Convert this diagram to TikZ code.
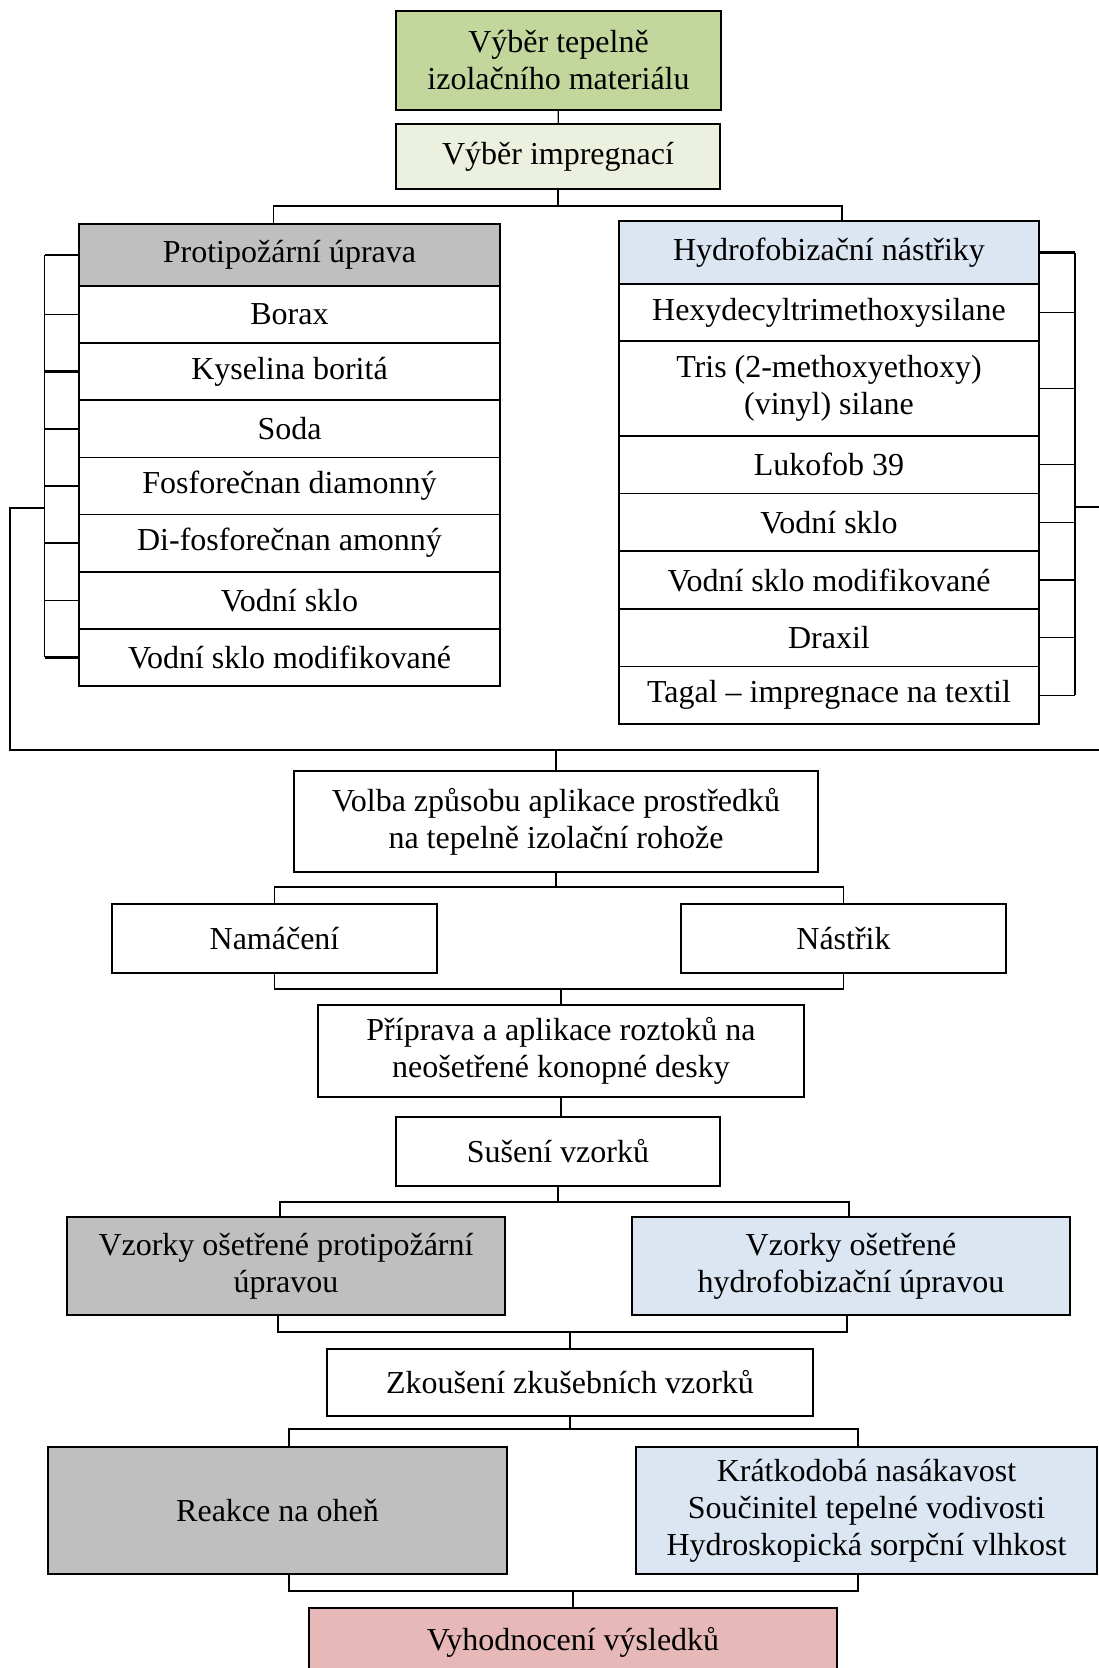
\documentclass[tikz,border=0pt]{standalone}
\usepackage{fontspec}
\setmainfont{Liberation Serif}
\usepackage{tikz}
\usetikzlibrary{positioning, calc}
\usepackage{xcolor}
\definecolor{matgreen}{RGB}{195, 214, 155}
\definecolor{impgreen}{RGB}{235, 241, 222}
\definecolor{firegray}{RGB}{191, 191, 191}
\definecolor{hydroblue}{RGB}{220, 230, 242}
\definecolor{resultpink}{RGB}{230, 185, 184}

\begin{document}
\begin{tikzpicture}[x=1pt, y=-1pt,
  box/.style={draw, line width=1.6pt, inner sep=0pt, outer sep=0pt,
    align=center, font=\fontsize{32}{37}\selectfont},
  link/.style={line width=1.3pt},
  heavy/.style={line width=2.6pt}]
  \useasboundingbox (0,0) rectangle (1099,1668);
  %--- selection -------------------------------------------------------------
  \node[box, fill=matgreen, minimum width=325, minimum height=99] (mat)
    at (558.5,60.5) {Výběr tepelně\\izolačního materiálu};
  \node[box, fill=impgreen, minimum width=324, minimum height=65] (imp)
    at (558,156.5) {Výběr impregnací};
  \draw[link] (mat) -- (imp);
  %--- fire protection list --------------------------------------------------
  \begin{scope}
    \node[box, fill=firegray, minimum width=421, minimum height=62] (f0)
      at (289.5,255) {Protipožární úprava};
    \foreach \txt [count=\i, remember=\i as \j (initially 0)] in
      {Borax, Kyselina boritá, Soda, Fosforečnan diamonný,
       Di-fosforečnan amonný, Vodní sklo, Vodní sklo modifikované}
      \node[box, minimum width=421, minimum height=57.14, below=0pt of f\j]
        (f\i) {\txt};
    % bracket on the left
    \coordinate (lspine) at (44.6,0);
    \foreach \k in {1,3,4,6}
      \draw[link] (f\k.west) -- (f\k.west -| lspine);
    \foreach \k in {0,2,5,7}
      \draw[heavy] (f\k.west) -- (f\k.west -| lspine);
    \draw[link] (f0.west -| lspine) -- (f7.west -| lspine);
  \end{scope}
  %--- hydrophobic list ------------------------------------------------------
  \begin{scope}
    \node[box, fill=hydroblue, minimum width=420, minimum height=63] (h0)
      at (829,252.5) {Hydrofobizační nástřiky};
    \node[box, minimum width=420, minimum height=57, below=0pt of h0] (h1)
      {Hexydecyltrimethoxysilane};
    \node[box, minimum width=420, minimum height=95, below=0pt of h1] (h2)
      {Tris (2-methoxyethoxy)\\(vinyl) silane};
    \foreach \txt [count=\i from 3, remember=\i as \j (initially 2)] in
      {Lukofob 39, Vodní sklo, Vodní sklo modifikované, Draxil,
       Tagal -- impregnace na textil}
      \node[box, minimum width=420, minimum height=57.6, below=0pt of h\j]
        (h\i) {\txt};
    % bracket on the right
    \coordinate (rspine) at (1075,0);
    \foreach \k in {1,2,3,4,6,7}
      \draw[link] (h\k.east) -- (h\k.east -| rspine);
    \foreach \k in {0,5}
      \draw[heavy] (h\k.east) -- (h\k.east -| rspine);
    \draw[link] (h0.east -| rspine) -- (h7.east -| rspine);
  \end{scope}
  % split to the two lists
  \coordinate (b1) at (553,206);
  \draw[link] (imp.south) -- (imp.south |- b1);
  \draw[link] ([xshift=-16]f0.north) |- (b1) -| ([xshift=13]h0.north);
  % both lists join below
  \coordinate (lout) at (10,508);
  \coordinate (rout) at (1112,507);
  \coordinate (bus) at (556,750);
  \draw[line width=2pt] (lout -| lspine) -- (lout) |- (bus) -- (bus -| rout)
    -- (rout) -- (rout -| rspine);
  %--- application -----------------------------------------------------------
  \node[box, minimum width=524.5, minimum height=101] (volba) at (556,821.5)
    {Volba způsobu aplikace prostředků\\na tepelně izolační rohože};
  \draw[link] (bus) -- (volba.north);
  \node[box, minimum width=325, minimum height=69] (nam) at (274.5,938.5)
    {Namáčení};
  \node[box, minimum width=325, minimum height=69] (nas) at (843.5,938.5)
    {Nástřik};
  \coordinate (b2) at (556,887);
  \draw[link] (volba.south) -- (b2);
  \draw[link] (nam.north) |- (b2) -| (nas.north);
  \node[box, minimum width=486.5, minimum height=92] (pri) at (561,1051)
    {Příprava a aplikace roztoků na\\neošetřené konopné desky};
  \coordinate (j2) at (561,989);
  \draw[link] (nam.south) |- (j2) -| (nas.south);
  \draw[link] (pri.north) -- (pri.north |- j2);
  \node[box, minimum width=324.5, minimum height=69] (sus) at (558,1151.5)
    {Sušení vzorků};
  \draw[link] (pri.south) -- (pri.south |- sus.north);
  %--- samples and tests -----------------------------------------------------
  \node[box, fill=firegray, minimum width=438, minimum height=98] (vfire)
    at (286,1266) {Vzorky ošetřené protipožární\\úpravou};
  \node[box, fill=hydroblue, minimum width=438, minimum height=98] (vhyd)
    at (851,1266) {Vzorky ošetřené\\hydrofobizační úpravou};
  \coordinate (b3) at (558,1202);
  \draw[link] (sus.south) -- (sus.south |- b3);
  \draw[link] ([xshift=-6]vfire.north) |- (b3) -| ([xshift=-2]vhyd.north);
  \node[box, minimum width=486.5, minimum height=67] (zk) at (570,1382.5)
    {Zkoušení zkušebních vzorků};
  \coordinate (j3) at (570,1332);
  \draw[link] ([xshift=-8]vfire.south) |- (j3) -| ([xshift=-4]vhyd.south);
  \draw[link] (zk.north) -- (zk.north |- j3);
  \node[box, fill=firegray, minimum width=459.5, minimum height=127] (reakce)
    at (277.5,1510.5) {Reakce na oheň};
  \node[box, fill=hydroblue, minimum width=461, minimum height=127] (meas)
    at (866.5,1510.5) {Krátkodobá nasákavost\\Součinitel tepelné vodivosti\\
    Hydroskopická sorpční vlhkost};
  \coordinate (b4) at (570,1429);
  \draw[link] (zk.south) -- (zk.south |- b4);
  \draw[link] ([xshift=11.5]reakce.north) |- (b4) -| ([xshift=-8.5]meas.north);
  %--- results ---------------------------------------------------------------
  \node[box, fill=resultpink, minimum width=528.5, minimum height=68] (vyh)
    at (573,1642) {Vyhodnocení výsledků};
  \coordinate (j4) at (573,1591);
  \draw[link] ([xshift=11.5]reakce.south) |- (j4) -| ([xshift=-8.5]meas.south);
  \draw[link] (vyh.north) -- (vyh.north |- j4);
\end{tikzpicture}
\end{document}
